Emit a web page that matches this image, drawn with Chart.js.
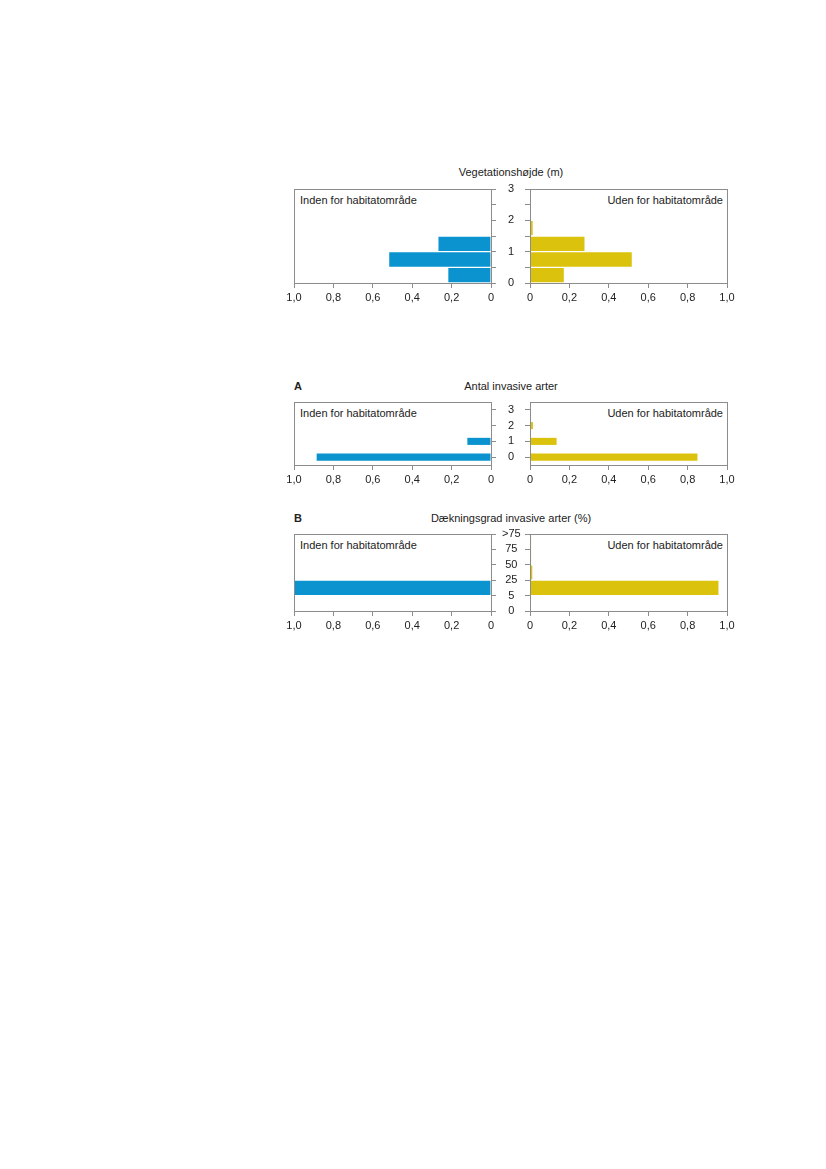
<!DOCTYPE html>
<html>
<head>
<meta charset="utf-8">
<script src="https://cdn.jsdelivr.net/npm/chart.js@4.4.1/dist/chart.umd.min.js"></script>
<style>
  body { margin: 0; background: #fff; width: 826px; height: 1169px; position: relative; overflow: hidden; }
  canvas { position: absolute; }
  .txt { position: absolute; font: 11px "Liberation Sans", Arial, sans-serif; color: #222; line-height: 14px; white-space: nowrap; }
  .title { width: 300px; left: 361px; text-align: center; }
  .tag { font-weight: bold; left: 294px; }
</style>
</head>
<body>
<div class="txt title" style="top:165px">Vegetationshøjde (m)</div>
<div class="txt" style="left:300px;top:193px">Inden for habitatområde</div>
<div class="txt" style="left:600px;top:193px;width:123px;text-align:right">Uden for habitatområde</div>
<canvas id="height-in" width="266" height="139" style="left:264px;top:169px"></canvas>
<canvas id="height-out" width="229" height="139" style="left:523px;top:169px"></canvas>

<div class="txt tag" style="top:379px">A</div>
<div class="txt title" style="top:379px">Antal invasive arter</div>
<div class="txt" style="left:300px;top:406px">Inden for habitatområde</div>
<div class="txt" style="left:600px;top:406px;width:123px;text-align:right">Uden for habitatområde</div>
<canvas id="count-in" width="266" height="108" style="left:264px;top:382px"></canvas>
<canvas id="count-out" width="229" height="108" style="left:523px;top:382px"></canvas>

<div class="txt tag" style="top:511px">B</div>
<div class="txt title" style="top:511px">Dækningsgrad invasive arter (%)</div>
<div class="txt" style="left:300px;top:538px">Inden for habitatområde</div>
<div class="txt" style="left:600px;top:538px;width:123px;text-align:right">Uden for habitatområde</div>
<canvas id="cover-in" width="266" height="122" style="left:264px;top:514px"></canvas>
<canvas id="cover-out" width="229" height="122" style="left:523px;top:514px"></canvas>

<script>
// vegetation height, bins of 0.5 m (bin centres)
var HEIGHT_BINS = [0.25, 0.75, 1.25, 1.75, 2.25, 2.75];
var HEIGHT_INSIDE = [0.22, 0.52, 0.27, 0, 0, 0];
var HEIGHT_OUTSIDE = [0.175, 0.52, 0.28, 0.017, 0, 0];

// number of invasive species
var COUNT_LABELS = ['0', '1', '2', '3'];
var COUNT_INSIDE = [0.885, 0.12, 0, 0];
var COUNT_OUTSIDE = [0.85, 0.135, 0.015, 0.004];

// invasive cover (%), bins between the tick labels
var COVER_BINS = [0.5, 1.5, 2.5, 3.5, 4.5];
var COVER_TICKS = ['0', '5', '25', '50', '75', '>75'];
var COVER_INSIDE = [0, 1.0, 0, 0, 0];
var COVER_OUTSIDE = [0, 0.96, 0.015, 0.006, 0.006];

var BLUE = '#0b93cf';
var YELLOW = '#dbc20d';
var GREY = '#8c8c8c';

Chart.defaults.font.family = '"Liberation Sans", Arial, sans-serif';
Chart.defaults.font.size = 11;
Chart.defaults.color = '#222';

// grey box round the plot area
var framePlugin = {
  id: 'frame',
  afterDraw: function (chart) {
    var a = chart.chartArea;
    var ctx = chart.ctx;
    ctx.save();
    ctx.strokeStyle = GREY;
    ctx.lineWidth = 1;
    ctx.strokeRect(a.left + 0.5, a.top + 0.5, a.right - a.left, a.bottom - a.top);
    ctx.restore();
  },
};

function fmtShare(v) {
  if (v === 0) return '0';
  return v.toFixed(1).replace('.', ',');
}

function toPoints(bins, values) {
  return bins.map(function (b, i) { return { x: values[i], y: b }; });
}

function makeChart(id, inside, data, labels, yScale, bar) {
  var xScale = {
    type: 'linear',
    min: 0,
    max: 1,
    reverse: inside,
    z: 1,
    afterFit: function (s) { s.height = 25; },
    ticks: { stepSize: 0.2, padding: 3, maxRotation: 0, autoSkip: false, callback: fmtShare },
    grid: { drawOnChartArea: false, tickLength: 5, color: GREY },
    border: { color: GREY },
  };
  yScale.position = inside ? 'right' : 'left';
  yScale.z = 1;
  yScale.grid = { drawOnChartArea: false, tickLength: 5, color: GREY, offset: false };
  yScale.border = { color: GREY };
  yScale.ticks.display = inside;
  yScale.ticks.autoSkip = false;
  if (inside) {
    yScale.afterFit = function (s) { s.width = 39; };
  } else {
    yScale.afterFit = function (s) { s.width = 7; };
  }
  return new Chart(document.getElementById(id), {
    type: 'bar',
    data: {
      labels: labels,
      datasets: [{
        data: data,
        backgroundColor: inside ? BLUE : YELLOW,
        borderColor: '#fff',
        borderWidth: bar.border,
        barPercentage: bar.pct,
        categoryPercentage: 1,
      }],
    },
    options: {
      indexAxis: 'y',
      responsive: false,
      animation: false,
      layout: { padding: inside ? { left: 30, top: 20 } : { right: 25, top: 20 } },
      scales: { x: xScale, y: yScale },
      plugins: { legend: { display: false }, tooltip: { enabled: false } },
    },
    plugins: [framePlugin],
  });
}

function heightAxis() {
  return {
    type: 'linear', min: 0, max: 3, offset: false,
    ticks: {
      stepSize: 0.5, padding: 12, crossAlign: 'center',
      callback: function (v) { return v % 1 === 0 ? String(v) : ''; },
    },
  };
}

function countAxis() {
  return {
    type: 'category', reverse: true, offset: true,
    ticks: { padding: 12, crossAlign: 'center' },
  };
}

function coverAxis() {
  return {
    type: 'linear', min: 0, max: 5, offset: false,
    ticks: {
      stepSize: 1, padding: 6, crossAlign: 'center',
      callback: function (v) { return COVER_TICKS[v]; },
    },
  };
}

makeChart('height-in', true, toPoints(HEIGHT_BINS, HEIGHT_INSIDE), undefined, heightAxis(), { border: 1, pct: 1 });
makeChart('height-out', false, toPoints(HEIGHT_BINS, HEIGHT_OUTSIDE), undefined, heightAxis(), { border: 1, pct: 1 });
makeChart('count-in', true, COUNT_INSIDE, COUNT_LABELS, countAxis(), { border: 0, pct: 0.45 });
makeChart('count-out', false, COUNT_OUTSIDE, COUNT_LABELS, countAxis(), { border: 0, pct: 0.45 });
makeChart('cover-in', true, toPoints(COVER_BINS, COVER_INSIDE), undefined, coverAxis(), { border: 1, pct: 1 });
makeChart('cover-out', false, toPoints(COVER_BINS, COVER_OUTSIDE), undefined, coverAxis(), { border: 1, pct: 1 });
</script>
</body>
</html>
